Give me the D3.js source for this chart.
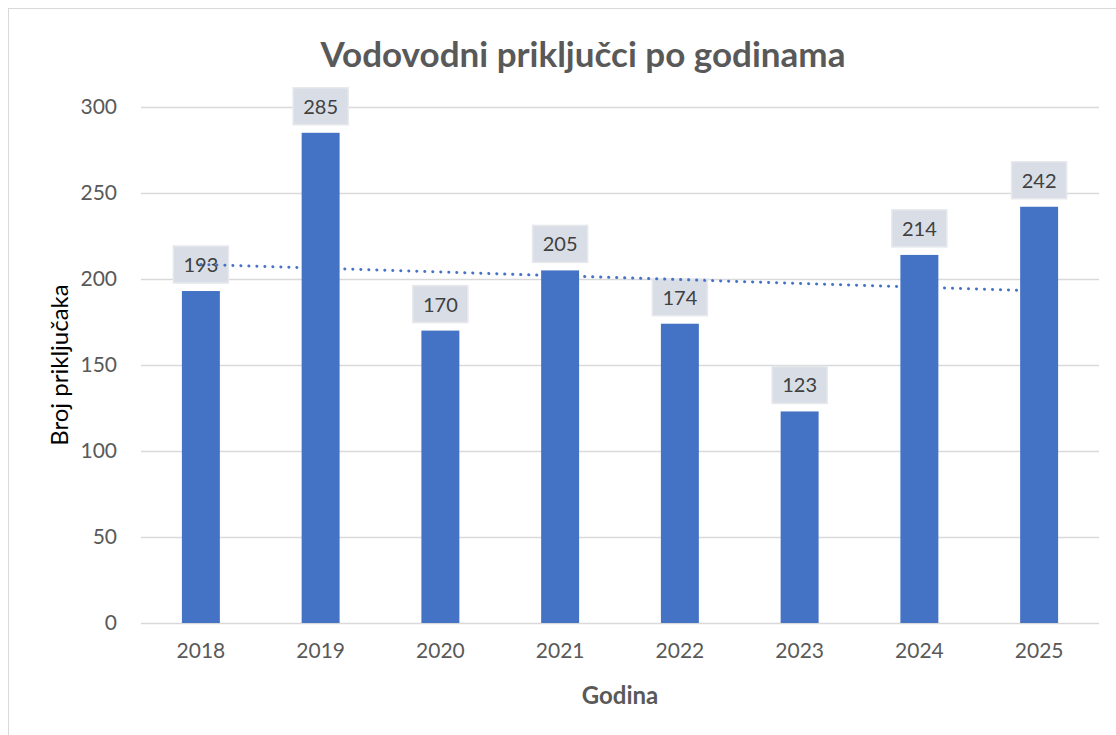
<!DOCTYPE html>
<html>
<head>
<meta charset="utf-8">
<script src="https://cdn.jsdelivr.net/npm/d3@7"></script>
<style>
  body { margin: 0; background: #fff; }
  text { font-family: Lato, "Open Sans", sans-serif; }
</style>
</head>
<body>
<div id="chart"></div>
<script>
// data
var years = ["2018", "2019", "2020", "2021", "2022", "2023", "2024", "2025"];
var connections = [193, 285, 170, 205, 174, 123, 214, 242];
var yTicks = [0, 50, 100, 150, 200, 250, 300];

var W = 1116, H = 735;
var margin = { top: 107, right: 17, bottom: 112, left: 141 };
var width = W - margin.left - margin.right;
var height = H - margin.top - margin.bottom;

var svg = d3.select("#chart").append("svg")
    .attr("width", W)
    .attr("height", H);

// outer chart border (cut off on right and bottom like the picture)
svg.append("rect")
    .attr("x", 8.5).attr("y", 8.5)
    .attr("width", W + 20).attr("height", H + 20)
    .attr("fill", "#fff")
    .attr("stroke", "#d9d9d9");

var g = svg.append("g")
    .attr("transform", "translate(" + margin.left + "," + margin.top + ")");

var xscale = d3.scaleBand()
    .domain(years)
    .range([0, width])
    .paddingInner(0.683)
    .paddingOuter(0.3415);

var yscale = d3.scaleLinear()
    .domain([0, 300])
    .range([height, 0]);

// gridlines
g.selectAll(".grid")
    .data(yTicks)
    .enter().append("line")
    .attr("class", "grid")
    .attr("x1", 0).attr("x2", width)
    .attr("y1", function(d) { return Math.round(yscale(d)) + 0.5; })
    .attr("y2", function(d) { return Math.round(yscale(d)) + 0.5; })
    .attr("stroke", "#d9d9d9")
    .attr("stroke-width", 1.3);

// y axis labels
var yaxis = d3.axisLeft(yscale).tickValues(yTicks).tickSize(0).tickPadding(24);
g.append("g").call(yaxis)
    .call(function(s) { s.select(".domain").remove(); })
    .selectAll("text")
    .attr("fill", "#595959")
    .style("font-size", "21px");

// x axis labels
var xaxis = d3.axisBottom(xscale).tickSize(0).tickPadding(20);
g.append("g")
    .attr("transform", "translate(0," + height + ")")
    .call(xaxis)
    .call(function(s) { s.select(".domain").remove(); })
    .selectAll("text")
    .attr("fill", "#595959")
    .style("font-size", "21px");

// bars
g.selectAll(".bar")
    .data(connections)
    .enter().append("rect")
    .attr("class", "bar")
    .attr("x", function(d, i) { return xscale(years[i]); })
    .attr("width", xscale.bandwidth())
    .attr("y", function(d) { return yscale(d); })
    .attr("height", function(d) { return height - yscale(d); })
    .attr("fill", "#4472c4");

// data labels in boxes
var lbl = g.selectAll(".lbl")
    .data(connections)
    .enter().append("g")
    .attr("class", "lbl")
    .attr("transform", function(d, i) {
        return "translate(" + (xscale(years[i]) + xscale.bandwidth() / 2) + "," + (yscale(d) - 8) + ")";
    });
lbl.append("rect")
    .attr("x", -27.5).attr("y", -37)
    .attr("width", 55).attr("height", 37)
    .attr("fill", "#d9dee6")
    .attr("stroke", "#e6e8ec")
    .attr("stroke-width", 1.5);
lbl.append("text")
    .attr("x", 0).attr("y", -11)
    .attr("text-anchor", "middle")
    .attr("fill", "#404040")
    .style("font-size", "20px")
    .text(function(d) { return d; });

// linear trendline (least squares on the bar values)
var n = connections.length;
var mx = d3.mean(d3.range(n));
var my = d3.mean(connections);
var sxy = d3.sum(connections, function(d, i) { return (i - mx) * (d - my); });
var sxx = d3.sum(d3.range(n), function(i) { return (i - mx) * (i - mx); });
var slope = sxy / sxx;
var trend = [0, n - 1].map(function(i) { return [i, my + slope * (i - mx)]; });

g.append("path")
    .datum(trend)
    .attr("d", d3.line()
        .x(function(d) { return xscale(years[d[0]]) + xscale.bandwidth() / 2; })
        .y(function(d) { return yscale(d[1]); }))
    .attr("fill", "none")
    .attr("stroke", "#4472c4")
    .attr("stroke-width", 3)
    .attr("stroke-linecap", "round")
    .attr("stroke-dasharray", "0.1,7.9");

// title
svg.append("text")
    .attr("x", 583).attr("y", 67)
    .attr("text-anchor", "middle")
    .attr("fill", "#595959")
    .attr("font-weight", "bold")
    .style("font-size", "35px")
    .text("Vodovodni priključci po godinama");

// axis titles
svg.append("text")
    .attr("transform", "translate(68," + (margin.top + height / 2) + ") rotate(-90)")
    .attr("text-anchor", "middle")
    .attr("fill", "#000")
    .style("font-size", "24px")
    .text("Broj priključaka");

svg.append("text")
    .attr("x", margin.left + width / 2).attr("y", 704)
    .attr("text-anchor", "middle")
    .attr("fill", "#595959")
    .attr("font-weight", "bold")
    .style("font-size", "24px")
    .text("Godina");
</script>
</body>
</html>
